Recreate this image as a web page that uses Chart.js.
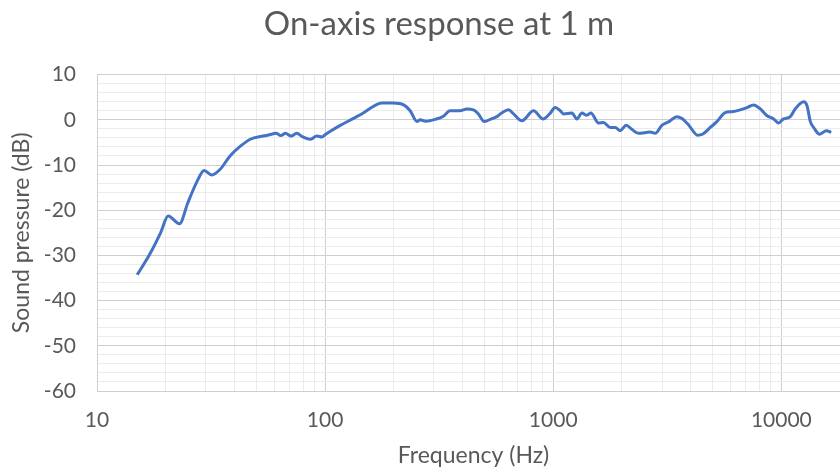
<!DOCTYPE html>
<html>
<head>
<meta charset="utf-8" />
<title>On-axis response</title>
<script src="https://cdn.jsdelivr.net/npm/chart.js@4.4.1/dist/chart.umd.min.js"></script>
<style>
  html, body { margin: 0; padding: 0; background: #fff; overflow: hidden; }
  #wrap { width: 878px; height: 469px; }
</style>
</head>
<body>
<div id="wrap"><canvas id="resp" width="878" height="469"></canvas></div>
<script>
// measured frequency response, Hz / dB
var freqHz = [15, 17, 19, 20.5, 23, 25, 27.3, 29.5, 31.8, 34.6, 38.3, 42.4, 47, 53.6, 57, 61, 64, 67, 71, 75, 80, 86, 92, 97, 100, 105,
  116, 133, 147, 163, 177, 199, 221, 236, 253, 261, 276, 304, 330, 353, 390, 418, 447, 470, 498, 529, 566, 594, 637, 670,
  729, 820, 902, 964, 1021, 1074, 1109, 1207, 1270, 1336, 1404, 1462, 1580, 1660, 1778, 1870, 1968, 2089, 2211, 2367,
  2661, 2800, 3000, 3220, 3487, 3667, 3946, 4292, 4510, 4882, 5216, 5675, 6070, 6607, 7075, 7557, 8087, 8660, 9250,
  9720, 10230, 10950, 11500, 12530, 12960, 13400, 13860, 14730, 15750, 16550];
var splDb = [-34.3, -29.8, -25.0, -21.3, -23.0, -18.4, -13.9, -11.2, -12.2, -11.0, -8.0, -5.9, -4.3, -3.6, -3.3, -3.0, -3.5, -3.0, -3.6, -3.0, -3.8, -4.3, -3.6, -3.8, -3.3, -2.6,
  -1.3, 0.3, 1.5, 3.0, 3.7, 3.7, 3.3, 2.0, -0.4, 0, -0.3, 0.1, 0.8, 2.0, 2.0, 2.4, 2.2, 1.3, -0.4, 0.1, 0.7, 1.5, 2.2, 1.3,
  -0.2, 2.0, 0.2, 1.3, 2.7, 2.0, 1.3, 1.5, 0.2, 1.5, 1.0, 1.5, -0.7, -0.6, -1.7, -1.7, -2.4, -1.2, -2.1, -3.0,
  -2.7, -3.0, -1.2, -0.4, 0.7, 0.3, -1.3, -3.4, -3.2, -1.7, -0.4, 1.6, 1.8, 2.2, 2.7, 3.3, 2.4, 0.9, 0.2,
  -0.7, 0.2, 0.7, 2.4, 4.0, 3.1, -0.4, -1.7, -3.2, -2.4, -2.8];

// gridlines at 1..9 x each decade, labels only on decades
var xGrid = [];
[10, 100, 1000, 10000].forEach(function (d) {
  for (var m = 1; m <= 9; m++) { if (d * m <= 20000) xGrid.push(d * m); }
});
xGrid.push(20000);
var xLabels = [10, 100, 1000, 10000];
var yLabels = [10, 0, -10, -20, -30, -40, -50, -60];

var pts = freqHz.map(function (f, i) { return { x: f, y: splDb[i] }; });

var txt = '#595959';
var fam = 'Lato, "Open Sans", sans-serif';

new Chart(document.getElementById('resp'), {
  type: 'line',
  data: {
    datasets: [{
      data: pts,
      borderColor: '#4472C4',
      borderWidth: 3,
      pointRadius: 0,
      cubicInterpolationMode: 'monotone',
      fill: false
    }]
  },
  options: {
    responsive: false,
    animation: false,
    // equal side padding keeps the title centred over the whole figure
    layout: { padding: { left: 28, right: 28, top: 0, bottom: 0 } },
    plugins: {
      legend: { display: false },
      tooltip: { enabled: false },
      title: {
        display: true,
        text: 'On-axis response at 1 m',
        color: txt,
        font: { family: fam, size: 33, weight: 'normal' },
        padding: { top: 5, bottom: 30 }
      }
    },
    scales: {
      x: {
        type: 'logarithmic',
        min: 10,
        max: 20000,
        afterBuildTicks: function (scale) {
          scale.ticks = xGrid.map(function (v) { return { value: v }; });
        },
        afterFit: function (scale) { scale.height = 78; },
        ticks: {
          autoSkip: false,
          maxRotation: 0,
          color: txt,
          padding: 17,
          font: { family: fam, size: 21 },
          callback: function (v) { return xLabels.indexOf(v) >= 0 ? String(v) : ''; }
        },
        grid: {
          drawTicks: false,
          lineWidth: 1,
          color: function (c) {
            return xLabels.indexOf(c.tick.value) >= 0 ? '#cfcfcf' : '#ebebeb';
          }
        },
        border: { color: '#cfcfcf', width: 1 },
        title: {
          display: true,
          text: 'Frequency (Hz)',
          color: txt,
          font: { family: fam, size: 23 },
          padding: { top: 8, bottom: 0 }
        }
      },
      y: {
        min: -60,
        max: 10,
        afterFit: function (scale) { scale.width = 69; },
        ticks: {
          stepSize: 2,
          autoSkip: false,
          color: txt,
          padding: 21,
          font: { family: fam, size: 21 },
          callback: function (v) { return yLabels.indexOf(v) >= 0 ? String(v) : ''; }
        },
        grid: {
          drawTicks: false,
          lineWidth: 1,
          color: function (c) {
            return c.tick.value % 10 === 0 ? '#cfcfcf' : '#ebebeb';
          }
        },
        border: { color: '#cfcfcf', width: 1 },
        title: {
          display: true,
          text: 'Sound pressure (dB)',
          color: txt,
          font: { family: fam, size: 23 },
          padding: { top: -20, bottom: 4 }
        }
      }
    }
  }
});
</script>
</body>
</html>
